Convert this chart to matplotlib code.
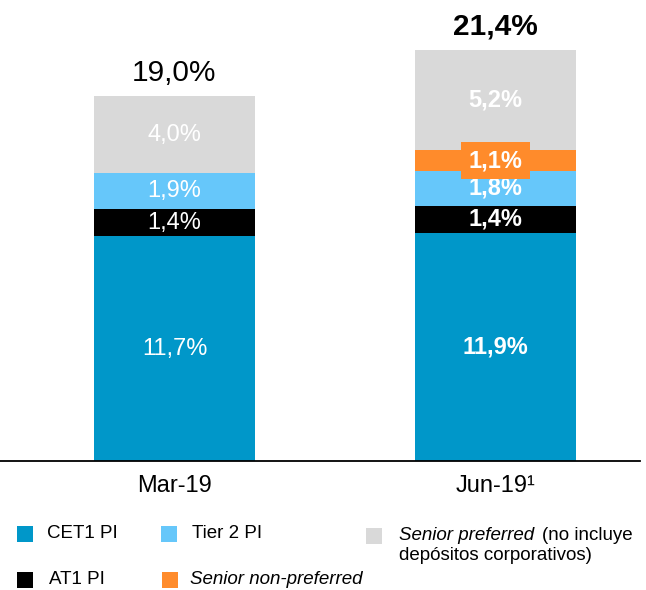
import numpy as np
import matplotlib
matplotlib.use("Agg")
import matplotlib.pyplot as plt
from matplotlib.patches import Rectangle

plt.rcParams['font.family'] = ['Liberation Sans', 'DejaVu Sans']

periods = ['Mar-19', 'Jun-19\u00b9']
cet1 = [11.7, 11.9]
at1 = [1.4, 1.4]
tier2 = [1.9, 1.8]
snp = [0.0, 1.1]
sp = [4.0, 5.2]
totals = ['19,0%', '21,4%']

c_cet1 = '#0097C9'
c_tier2 = '#66C7FA'
c_at1 = '#000000'
c_snp = '#FF8B2B'
c_sp = '#D9D9D9'

W, H = 646, 590
fig = plt.figure(figsize=(W / 100, H / 100), dpi=100)
base_y = 461
ax = fig.add_axes([0, (H - base_y) / H, 640 / W, base_y / H])

x = np.arange(len(periods))
width = 0.5
ax.set_xlim(-174.5 / 321, 1 + 144.5 / 321)
ax.set_ylim(0, base_y / 19.2)

layers = [(cet1, c_cet1), (at1, c_at1), (tier2, c_tier2), (snp, c_snp), (sp, c_sp)]
bottom = np.zeros(len(periods))
for vals, col in layers:
    vals = np.array(vals)
    ax.bar(x, vals, width, bottom=bottom, color=col, edgecolor='none')
    for i, v in enumerate(vals):
        if v <= 0:
            continue
        weight = 'bold' if i == 1 else 'normal'
        lab = f'{v:.1f}%'.replace('.', ',')
        kw = {}
        if col == c_snp:
            kw['bbox'] = dict(boxstyle='square,pad=0.3', facecolor=c_snp, edgecolor='none')
        ax.text(x[i], bottom[i] + v / 2, lab, ha='center', va='center',
                color='white', fontsize=17, fontweight=weight, **kw)
    bottom = bottom + vals

for i, t in enumerate(totals):
    weight = 'bold' if i == 1 else 'normal'
    ax.text(x[i], bottom[i] + 0.5, t, ha='center', va='bottom',
            fontsize=21.5, fontweight=weight, color='black')

ax.set_xticks(x)
ax.set_xticklabels(periods, fontsize=17)
ax.tick_params(axis='x', length=0, pad=10)
ax.set_yticks([])
for s in ['top', 'right', 'left']:
    ax.spines[s].set_visible(False)
ax.spines['bottom'].set_linewidth(1.3)
ax.patch.set_visible(False)


def fx(px):
    return px / W


def fy(py):
    return 1 - py / H


# legend drawn in figure pixels
items = [
    (17, 526, c_cet1, 'CET1 PI', 'normal', 47),
    (161, 526, c_tier2, 'Tier 2 PI', 'normal', 192),
    (17, 572, c_at1, 'AT1 PI', 'normal', 49),
    (162, 572, c_snp, 'Senior non-preferred', 'italic', 190),
]
sq = 16
for sx, sy, col, lab, style, tx in items:
    fig.add_artist(Rectangle((fx(sx), fy(sy + sq)), sq / W, sq / H,
                             transform=fig.transFigure, facecolor=col, edgecolor='none'))
    fig.text(fx(tx), fy(sy + sq / 2), lab, fontsize=13.5, style=style,
             ha='left', va='center')

fig.add_artist(Rectangle((fx(366), fy(528 + sq)), sq / W, sq / H,
                         transform=fig.transFigure, facecolor=c_sp, edgecolor='none'))
t1 = fig.text(fx(399), fy(535), 'Senior preferred', fontsize=13.5,
              style='italic', ha='left', va='center')
renderer = fig.canvas.get_renderer()
bb = t1.get_window_extent(renderer=renderer)
fig.text(bb.x1 / W + fx(8), fy(535), '(no incluye', fontsize=13.5,
         ha='left', va='center')
fig.text(fx(399), fy(556), 'depósitos corporativos)', fontsize=13.5,
         ha='left', va='center')

fig.savefig('out.png', dpi=100)
